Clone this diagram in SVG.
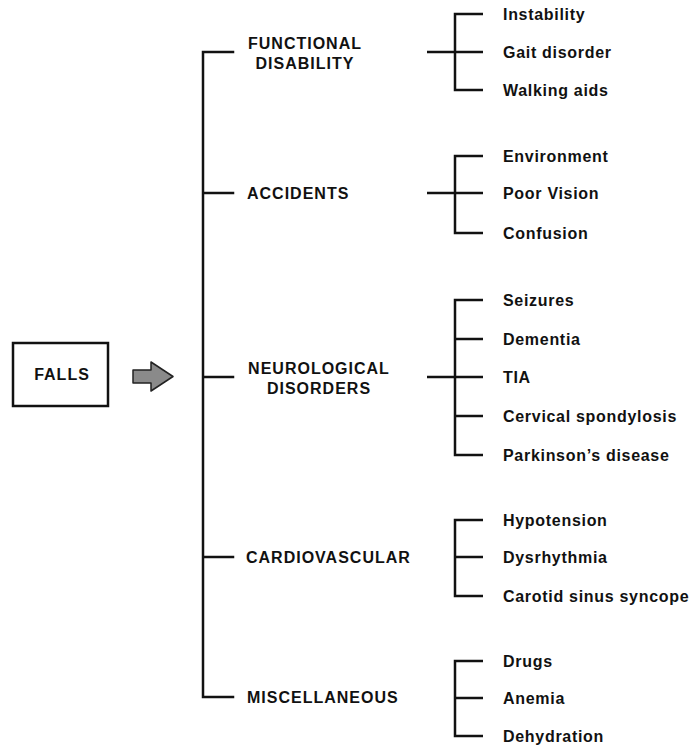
<svg xmlns="http://www.w3.org/2000/svg" width="695" height="755" viewBox="0 0 695 755">
<defs>
<style>
.cat{font-family:"Liberation Sans",Arial,sans-serif;font-weight:bold;font-size:16px;letter-spacing:1px;fill:#111}
.item{font-family:"Liberation Sans",Arial,sans-serif;font-weight:bold;font-size:16px;letter-spacing:0.7px;fill:#111}
.ln{stroke:#111;stroke-width:2.5;fill:none;stroke-linecap:square}
.sub{stroke:#111;stroke-width:2.5;fill:none}
</style>
</defs>
<rect width="695" height="755" fill="#fff"/>
<g id="falls">
<rect x="13" y="343" width="95" height="63" fill="#fff" stroke="#111" stroke-width="2.5"/>
<text class="cat" x="62" y="380" text-anchor="middle" font-size="16.5">FALLS</text>
</g>
<g id="arrow">
<path d="M133,370 L151,370 L151,362 L173,376.5 L151,391 L151,383 L133,383 Z" fill="#8a8a8a" stroke="#222" stroke-width="1.5" stroke-linejoin="round"/>
</g>
<g id="connectors">
<path class="ln" d="M233,52 H203 V697 H233 M203,193 H233 M203,377 H233 M203,557 H233"/>
<path class="sub" d="M483,14 H455 V90 H483 M427,52 H483"/>
<path class="sub" d="M483,156 H455 V233 H483 M427,193 H483"/>
<path class="sub" d="M483,300 H455 V455 H483 M455,339 H483 M427,377 H483 M455,416 H483"/>
<path class="sub" d="M483,520 H455 V596 H483 M455,557 H483"/>
<path class="sub" d="M483,661 H455 V736 H483 M455,698 H483"/>
</g>
<g id="functional">
<text class="cat" x="305" y="49" text-anchor="middle">FUNCTIONAL</text>
<text class="cat" x="305" y="69" text-anchor="middle">DISABILITY</text>
</g>
<g id="accidents"><text class="cat" x="247" y="199">ACCIDENTS</text></g>
<g id="neurological">
<text class="cat" x="319" y="374" text-anchor="middle">NEUROLOGICAL</text>
<text class="cat" x="319" y="394" text-anchor="middle">DISORDERS</text>
</g>
<g id="cardiovascular"><text class="cat" x="246" y="563">CARDIOVASCULAR</text></g>
<g id="miscellaneous"><text class="cat" x="247" y="703">MISCELLANEOUS</text></g>
<g id="functional-items">
<text class="item" x="503" y="20">Instability</text>
<text class="item" x="503" y="58">Gait disorder</text>
<text class="item" x="503" y="96">Walking aids</text>
</g>
<g id="accident-items">
<text class="item" x="503" y="162">Environment</text>
<text class="item" x="503" y="199">Poor Vision</text>
<text class="item" x="503" y="239">Confusion</text>
</g>
<g id="neuro-items">
<text class="item" x="503" y="306">Seizures</text>
<text class="item" x="503" y="345">Dementia</text>
<text class="item" x="503" y="383">TIA</text>
<text class="item" x="503" y="422">Cervical spondylosis</text>
<text class="item" x="503" y="461">Parkinson’s disease</text>
</g>
<g id="cardio-items">
<text class="item" x="503" y="526">Hypotension</text>
<text class="item" x="503" y="563">Dysrhythmia</text>
<text class="item" x="503" y="602">Carotid sinus syncope</text>
</g>
<g id="misc-items">
<text class="item" x="503" y="667">Drugs</text>
<text class="item" x="503" y="704">Anemia</text>
<text class="item" x="503" y="742">Dehydration</text>
</g>
</svg>
